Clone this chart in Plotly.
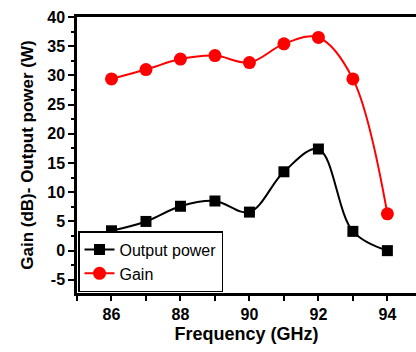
import plotly.graph_objects as go

freq = [86, 87, 88, 89, 90, 91, 92, 93, 94]
output_power = [3.4, 5.0, 7.6, 8.5, 6.6, 13.5, 17.4, 3.3, 0.0]
gain = [29.4, 31.0, 32.8, 33.4, 32.2, 35.4, 36.5, 29.4, 6.3]

x_ticks = [86, 88, 90, 92, 94]
y_ticks = [-5, 0, 5, 10, 15, 20, 25, 30, 35, 40]

fig = go.Figure()
fig.add_trace(go.Scatter(
    x=freq, y=output_power, name="Output power", mode="lines+markers",
    line=dict(color="black", width=2, shape="spline", smoothing=1.0),
    marker=dict(symbol="square", size=11, color="black"),
))
fig.add_trace(go.Scatter(
    x=freq, y=gain, name="Gain", mode="lines+markers",
    line=dict(color="#ff0000", width=2, shape="spline", smoothing=1.0),
    marker=dict(symbol="circle", size=13, color="#ff0000"),
))

FAM = "Liberation Sans, Arial"
fig.update_layout(
    width=416, height=352,
    margin=dict(l=77, r=0, t=17, b=59),
    paper_bgcolor="white", plot_bgcolor="white",
    font=dict(family=FAM, color="black"),
    showlegend=True,
    legend=dict(
        x=0.003, y=0.003, xanchor="left", yanchor="bottom",
        bgcolor="white", bordercolor="black", borderwidth=1.5,
        font=dict(family=FAM, size=16, color="black"),
        tracegroupgap=0,
    ),
    xaxis=dict(
        range=[85, 94.83],
        tickmode="array", tickvals=x_ticks, ticktext=[f"<b>{v}</b>" for v in x_ticks],
        showgrid=False, zeroline=False,
        showline=True, linecolor="black", linewidth=2.5, mirror=True,
        ticks="outside", ticklen=5, tickwidth=1.5, tickcolor="black",
        minor=dict(dtick=1, tick0=85, ticks="outside", ticklen=5, tickwidth=1.5, tickcolor="black"),
        tickfont=dict(family=FAM, size=16, color="black"),
        title=dict(text="<b>Frequency (GHz)</b>", font=dict(family=FAM, size=18, color="black"), standoff=6),
    ),
    yaxis=dict(
        range=[-7.25, 40],
        tickmode="array", tickvals=y_ticks, ticktext=[f"<b>{v}</b>" for v in y_ticks],
        showgrid=False, zeroline=False,
        showline=True, linecolor="black", linewidth=2.5, mirror=False,
        ticks="outside", ticklen=6, tickwidth=1.5, tickcolor="black",
        minor=dict(dtick=2.5, tick0=0, ticks="outside", ticklen=3, tickwidth=1.5, tickcolor="black"),
        tickfont=dict(family=FAM, size=16, color="black"),
        title=dict(text="<b>Gain (dB)- Output power (W)</b>", font=dict(family=FAM, size=17, color="black"), standoff=10),
    ),
)

fig.write_html("out.html")
